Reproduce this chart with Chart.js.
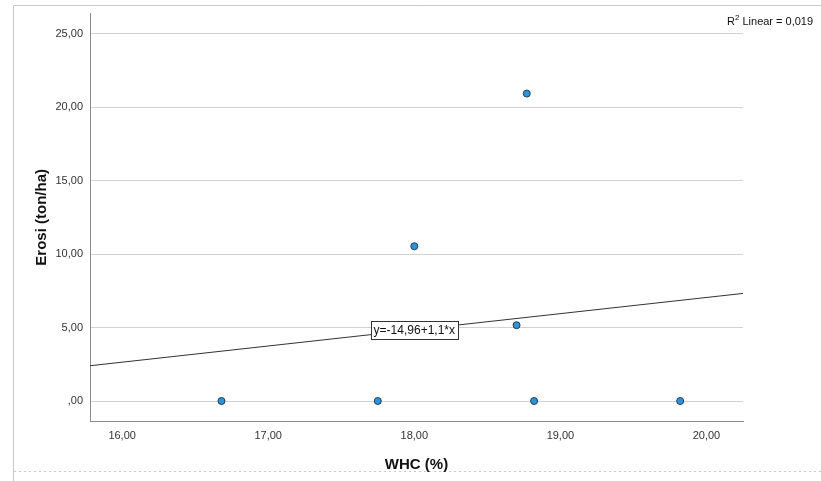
<!DOCTYPE html>
<html>
<head>
<meta charset="utf-8">
<script src="https://cdn.jsdelivr.net/npm/chart.js@4"></script>
<style>
  html, body { margin: 0; padding: 0; background: #fff; }
  #wrap { width: 821px; height: 481px; position: relative; }
</style>
</head>
<body>
<div id="wrap"><canvas id="chart" width="821" height="481"></canvas></div>
<script>
// data
const whc = [16.68, 17.75, 18.00, 18.70, 18.77, 18.82, 19.82];
const erosi = [0, 0, 10.53, 5.16, 20.92, 0, 0];
const fitX = [15.78, 20.25];
const fitY = [2.40, 7.32];
const xTitle = "WHC (%)";
const yTitle = "Erosi (ton/ha)";
const eqText = "y=-14,96+1,1*x";
const r2Text = ["R", "2", " Linear = 0,019"];

const fmt = v => {
    let s = Number(v).toFixed(2).replace('.', ',');
    if (s.startsWith("0,")) s = s.slice(1);
    return s;
};

const decor = {
    id: 'decor',
    beforeDraw(chart) {
        const c = chart.ctx;
        c.save();
        c.fillStyle = '#fff';
        c.fillRect(0, 0, chart.width, chart.height);
        // outer frame
        c.strokeStyle = '#c8c8c8';
        c.lineWidth = 1;
        c.beginPath();
        c.moveTo(13.5, 481); c.lineTo(13.5, 5.5); c.lineTo(821, 5.5);
        c.stroke();
        c.setLineDash([2, 3]);
        c.beginPath();
        c.moveTo(14, 471.5); c.lineTo(821, 471.5);
        c.stroke();
        c.restore();
    },
    afterDraw(chart) {
        const c = chart.ctx;
        const xs = chart.scales.x, ys = chart.scales.y;
        const a = chart.chartArea;
        c.save();
        // axis titles
        c.fillStyle = '#111';
        c.font = 'bold 15px "Liberation Sans", Arial, sans-serif';
        c.textAlign = 'center';
        c.textBaseline = 'middle';
        c.fillText(xTitle, (a.left + a.right) / 2, 465);
        c.translate(42, (a.top + a.bottom) / 2);
        c.rotate(-Math.PI / 2);
        c.fillText(yTitle, 0, 0);
        c.restore();

        // equation box on the fit line
        c.save();
        c.font = '12px "Liberation Sans", Arial, sans-serif';
        const xm = 18.0;
        const ym = fitY[0] + (fitY[1] - fitY[0]) * (xm - fitX[0]) / (fitX[1] - fitX[0]);
        const px = xs.getPixelForValue(xm), py = ys.getPixelForValue(ym);
        const w = c.measureText(eqText).width + 6, h = 18;
        c.fillStyle = '#fff';
        c.fillRect(Math.round(px - w / 2) + 0.5, Math.round(py - h / 2) + 0.5, Math.round(w), h);
        c.strokeStyle = '#333';
        c.lineWidth = 1;
        c.strokeRect(Math.round(px - w / 2) + 0.5, Math.round(py - h / 2) + 0.5, Math.round(w), h);
        c.fillStyle = '#111';
        c.textAlign = 'center';
        c.textBaseline = 'middle';
        c.fillText(eqText, px, py + 1);
        c.restore();

        // R2 label
        c.save();
        c.fillStyle = '#111';
        c.textBaseline = 'alphabetic';
        let x = 727;
        c.font = '11px "Liberation Sans", Arial, sans-serif';
        c.fillText(r2Text[0], x, 25);
        x += c.measureText(r2Text[0]).width;
        c.font = '8px "Liberation Sans", Arial, sans-serif';
        c.fillText(r2Text[1], x, 20);
        x += c.measureText(r2Text[1]).width;
        c.font = '11px "Liberation Sans", Arial, sans-serif';
        c.fillText(r2Text[2], x, 25);
        c.restore();
    }
};

new Chart(document.getElementById('chart'), {
    type: 'scatter',
    data: {
        datasets: [
            {
                label: 'fit',
                type: 'line',
                data: fitX.map((x, i) => ({ x: x, y: fitY[i] })),
                borderColor: '#333',
                borderWidth: 1,
                pointRadius: 0,
                fill: false,
                order: 2
            },
            {
                label: 'Erosi',
                data: whc.map((x, i) => ({ x: x, y: erosi[i] })),
                backgroundColor: '#2f93d8',
                borderColor: '#1d3e5e',
                borderWidth: 1,
                pointRadius: 3.5,
                order: 1
            }
        ]
    },
    options: {
        responsive: false,
        animation: false,
        layout: { padding: { left: 0, top: 13, right: 78, bottom: 0 } },
        plugins: { legend: { display: false }, tooltip: { enabled: false } },
        scales: {
            x: {
                type: 'linear',
                min: 15.78,
                max: 20.25,
                afterFit: s => { s.height = 60; },
                grid: { display: false, drawTicks: false },
                border: { display: true, color: '#8c8c8c', width: 1 },
                ticks: {
                    stepSize: 1,
                    includeBounds: false,
                    padding: 8,
                    color: '#333',
                    font: { family: '"Liberation Sans", Arial, sans-serif', size: 11 },
                    callback: v => fmt(v)
                }
            },
            y: {
                type: 'linear',
                min: -1.36,
                max: 26.36,
                afterFit: s => { s.width = 90; },
                grid: { color: '#d2d2d2', drawTicks: false },
                border: { display: true, color: '#8c8c8c', width: 1 },
                ticks: {
                    stepSize: 5,
                    includeBounds: false,
                    padding: 7,
                    color: '#333',
                    font: { family: '"Liberation Sans", Arial, sans-serif', size: 11 },
                    callback: v => fmt(v)
                }
            }
        }
    },
    plugins: [decor]
});
</script>
</body>
</html>
